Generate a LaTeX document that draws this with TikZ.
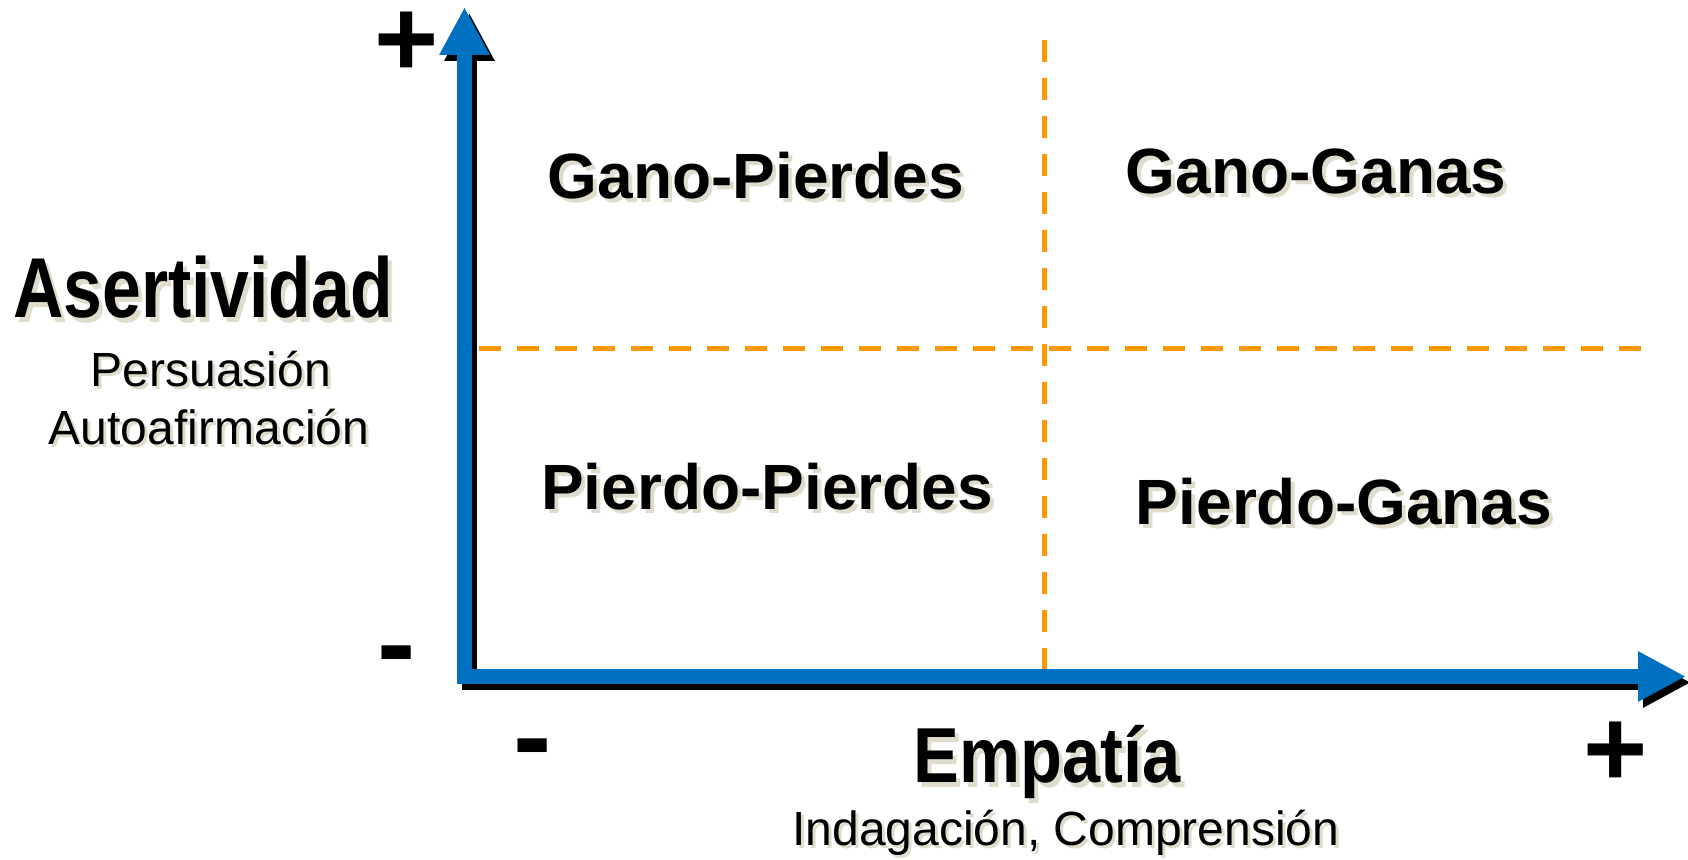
\documentclass[tikz,border=0pt]{standalone}
\usepackage{fontspec}
\setmainfont{Liberation Sans}
\usetikzlibrary{arrows.meta}
\definecolor{axisblue}{HTML}{0070C0}
\definecolor{dashorange}{HTML}{FF9900}
\definecolor{shadowc}{HTML}{E0DCCB}
% text with a light drop shadow: #1 offset, #2 text
\newcommand{\shadowtxt}[2]{\makebox[0pt][l]{\hspace{#1}\raisebox{-#1}{\textcolor{shadowc}{#2}}}#2}
\begin{document}
\begin{tikzpicture}[x=0.5pt,y=-0.5pt,
  axisline/.style={line width=7.5pt, line cap=butt, -{Triangle[length=24pt,width=23.5pt]}},
  dashline/.style={draw=dashorange, line width=2.5pt, dash pattern=on 11pt off 8pt},
  lbl/.style={inner sep=0pt, outer sep=0pt, anchor=base, text=black},
  big/.style={font=\bfseries\fontsize{42.5pt}{50pt}\selectfont},
  emp/.style={font=\bfseries\fontsize{39pt}{46pt}\selectfont},
  sub/.style={font=\fontsize{24pt}{28pt}\selectfont},
  subb/.style={font=\fontsize{24pt}{28pt}\selectfont},
  quad/.style={font=\bfseries\fontsize{32pt}{38pt}\selectfont},
  sign/.style={inner sep=0pt, outer sep=0pt, anchor=base, font=\bfseries\fontsize{55pt}{60pt}\selectfont},
  minus/.style={inner sep=0pt, outer sep=0pt, anchor=base, font=\bfseries\fontsize{57.5pt}{60pt}\selectfont}
]
\useasboundingbox (0,0) rectangle (1688,860);

% coordinates of axes
\coordinate (O) at (464.5,684);
\coordinate (Ytip) at (464.5,7);
\coordinate (O2) at (457,676.5);
\coordinate (Xtip) at (1686,676.5);

% dashed quadrant lines
\coordinate (Vt) at (1044,40);
\coordinate (Vb) at (1044,669);
\coordinate (Hl) at (479,349);
\coordinate (Hr) at (1645,349);
\draw[dashline] (Vt) -- (Vb);
\draw[dashline] (Hl) -- (Hr);

% axis shadows
\draw[axisline, draw=black] ([shift={(5,6)}]O) -- ([shift={(5,6)}]Ytip);
\draw[axisline, draw=black] ([shift={(5,6)}]O2) -- ([shift={(5,6)}]Xtip);
% axes
\draw[axisline, draw=axisblue] (O) -- (Ytip);
\draw[axisline, draw=axisblue] (O2) -- (Xtip);

% signs
\node[sign] (yplus) at (406.5,77) {+};
\node[minus] (yminus) at (397,683) {-};
\node[minus] (xminus) at (533,776) {-};
\node[sign] (xplus) at (1616,787) {+};

% Asertividad
\node[lbl,big] (aser) at (203,318) {\scalebox{0.82}[1]{\shadowtxt{2.5pt}{Asertividad}}};
\node[lbl,sub] (pers) at (211,387) {\shadowtxt{1.5pt}{Persuasión}};
\node[lbl,sub] (auto) at (209,445) {\shadowtxt{1.5pt}{Autoafirmación}};

% Empatia
\node[lbl,emp] (emp) at (1047,783) {\scalebox{0.88}[1]{\shadowtxt{2.5pt}{Empatía}}};
\node[lbl,subb] (ind) at (1066,846) {\shadowtxt{1.5pt}{Indagación, Comprensión}};

% quadrants
\node[lbl,quad] (gp) at (756,199) {\shadowtxt{2pt}{Gano-Pierdes}};
\node[lbl,quad] (gg) at (1316,194) {\shadowtxt{2pt}{Gano-Ganas}};
\node[lbl,quad] (pp) at (767,510) {\shadowtxt{2pt}{Pierdo-Pierdes}};
\node[lbl,quad] (pg) at (1344,525) {\shadowtxt{2pt}{Pierdo-Ganas}};
\end{tikzpicture}
\end{document}
